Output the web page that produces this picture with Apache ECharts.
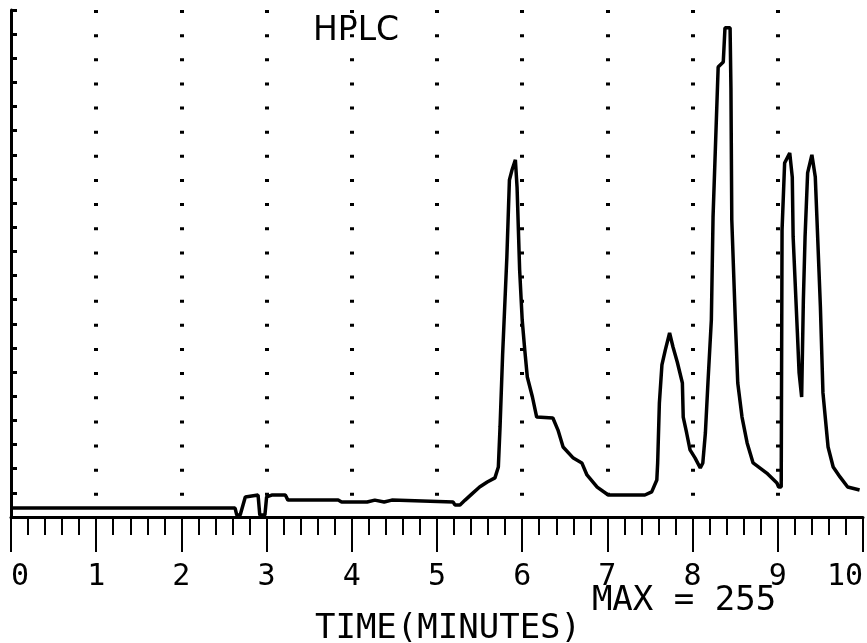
<!DOCTYPE html>
<html>
<head>
<meta charset="utf-8">
<script src="https://cdn.jsdelivr.net/npm/echarts@6/dist/echarts.min.js"></script>
<style>
html,body{margin:0;padding:0;background:#fff;}
#chart{width:867px;height:643px;}
</style>
</head>
<body>
<div id="chart"></div>
<script>
// Time in minutes
const times = [0, 2.63, 2.65, 2.69, 2.75, 2.77, 2.90, 2.92, 2.98, 3.00, 3.06, 3.22, 3.25, 3.84, 3.88,
  4.18, 4.20, 4.27, 4.29, 4.38, 4.40, 4.47, 4.49, 5.19, 5.21, 5.27, 5.33, 5.42, 5.50, 5.59, 5.68,
  5.72, 5.74, 5.77, 5.82, 5.85, 5.88, 5.92, 5.94, 5.96, 5.97, 6.00, 6.03, 6.06, 6.12, 6.17, 6.36,
  6.42, 6.48, 6.60, 6.70, 6.76, 6.88, 7.01, 7.44, 7.52, 7.58, 7.59, 7.61, 7.64, 7.68, 7.73, 7.77,
  7.82, 7.88, 7.89, 7.93, 7.97, 8.03, 8.09, 8.12, 8.15, 8.18, 8.22, 8.24, 8.30, 8.36, 8.38, 8.44,
  8.45, 8.46, 8.50, 8.53, 8.58, 8.64, 8.71, 8.87, 8.99, 9.01, 9.04, 9.05, 9.08, 9.14, 9.17, 9.18,
  9.23, 9.25, 9.28, 9.30, 9.32, 9.35, 9.40, 9.44, 9.46, 9.50, 9.53, 9.59, 9.65, 9.73, 9.82, 9.96];
// Detector signal (arbitrary units, 10 per tick)
const signal = [3.7, 3.7, 0.8, 0.8, 8.3, 9.1, 9.1, 0.8, 0.8, 8.3, 9.1, 9.1, 7.0, 7.0, 6.2,
  6.2, 7.0, 7.0, 6.2, 6.2, 7.0, 7.0, 6.2, 6.2, 5.0, 5.0, 7.0, 9.9, 12.4, 14.5, 16.2,
  20.7, 37.3, 67.1, 107.7, 139.6, 143.7, 147.9, 136.3, 135.5, 102.3, 81.6, 69.2, 58.0, 49.7, 41.4, 41.0,
  36.0, 29.0, 24.4, 22.4, 17.4, 12.4, 9.1, 9.1, 10.4, 15.3, 22.4, 47.2, 63.0, 69.2, 76.2, 70.4,
  64.2, 55.5, 41.4, 34.8, 27.8, 24.4, 20.3, 22.4, 34.8, 55.5, 81.6, 124.3, 186.4, 188.5, 202.6, 202.6,
  177.7, 123.0, 82.8, 55.5, 41.4, 30.7, 22.4, 18.2, 14.1, 12.4, 12.4, 118.9, 146.6, 150.8, 140.8, 116.0,
  76.2, 59.7, 49.7, 89.9, 116.0, 142.5, 150.0, 140.8, 123.0, 87.0, 51.4, 29.0, 20.7, 16.6, 12.4, 11.2];
const xTickLabels = ['0','1','2','3','4','5','6','7','8','9','10'];

const chart = echarts.init(document.getElementById('chart'), null, {renderer: 'canvas'});
const mono = 'DejaVu Sans Mono';
chart.setOption({
  animation: false,
  backgroundColor: '#ffffff',
  grid: {left: 11, right: 4, top: 10, bottom: 126, containLabel: false, outerBoundsMode: 'none'},
  xAxis: {
    type: 'value', min: 0, max: 10, interval: 1,
    axisLine: {show: true, onZero: false, lineStyle: {color: '#000', width: 3}},
    axisTick: {show: true, length: 35, lineStyle: {color: '#000', width: 2}},
    minorTick: {show: true, splitNumber: 5, length: 18, lineStyle: {color: '#000', width: 2}},
    axisLabel: {
      margin: 45, color: '#000', fontFamily: mono, fontSize: 30,
      formatter: function (v) { return xTickLabels[Math.round(v)]; },
      alignMinLabel: 'left', alignMaxLabel: 'right'
    },
    splitLine: {show: true, showMinLine: false, showMaxLine: false,
      lineStyle: {color: '#000', width: 4, type: [3, 21.14], dashOffset: 0}},
    name: 'TIME(MINUTES)', nameLocation: 'middle', nameGap: 95,
    nameTextStyle: {color: '#000', fontFamily: mono, fontSize: 34, padding: [0, 0, 0, 22]}
  },
  yAxis: {
    type: 'value', min: 0, max: 210, interval: 10,
    axisLine: {show: true, lineStyle: {color: '#000', width: 3}},
    axisTick: {show: true, inside: true, length: 6, lineStyle: {color: '#000', width: 3}},
    axisLabel: {show: false},
    splitLine: {show: false}
  },
  graphic: [
    {type: 'text', x: 356, y: 31, style: {text: 'HPLC', fill: '#000', font: '33px "DejaVu Sans"', textAlign: 'center', textVerticalAlign: 'middle'}},
    {type: 'text', x: 684, y: 601, style: {text: 'MAX = 255', fill: '#000', font: '34px "DejaVu Sans Mono"', textAlign: 'center', textVerticalAlign: 'middle'}}
  ],
  series: [{
    type: 'line',
    data: times.map((t, i) => [t, signal[i]]),
    showSymbol: false, symbol: 'none',
    lineStyle: {color: '#000', width: 3.5},
    silent: true
  }]
});
</script>
</body>
</html>
